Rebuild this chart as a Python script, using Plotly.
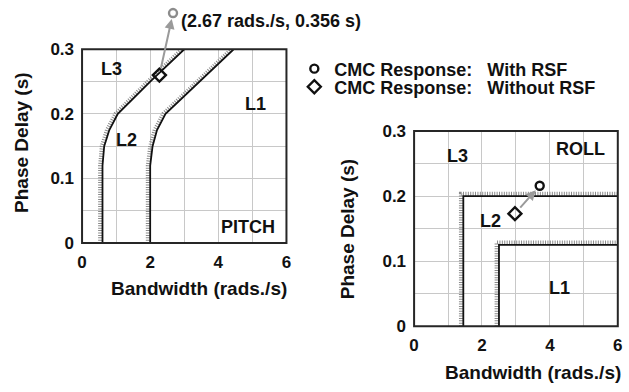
import plotly.graph_objects as go

# ---- Level boundaries (bandwidth in rad/s, phase delay in s) ----
pitch_l1_bw = [2.0, 2.0, 2.07, 2.2, 2.45, 3.45, 4.45]
pitch_l1_pd = [0.0, 0.12, 0.15, 0.175, 0.2, 0.25, 0.3]
pitch_l2_bw = [0.6, 0.6, 0.65, 0.8, 1.05, 2.0, 3.0]
pitch_l2_pd = [0.0, 0.12, 0.15, 0.175, 0.2, 0.25, 0.3]

roll_l1_bw = [2.5, 2.5, 6.0]
roll_l1_pd = [0.0, 0.125, 0.125]
roll_l2_bw = [1.45, 1.45, 6.0]
roll_l2_pd = [0.0, 0.2, 0.2]

# ---- CMC responses ----
pitch_without_rsf = (2.27, 0.26)
pitch_with_rsf = (2.67, 0.356)
roll_without_rsf = (2.97, 0.173)
roll_with_rsf = (3.7, 0.216)

X_RANGE = [0, 6]
Y_RANGE = [0, 0.3]

FONT = "Liberation Sans, Arial, sans-serif"
INK = "#111111"
GRID = "#c8c8c8"
HATCH = "#8a8a8a"
ARROW = "#9a9a9a"
FRAME = "#262626"

W, H = 629, 392
# plot-area domains (paper fractions)
PX_DOM = [78.3 / W, 286 / W]
PY_DOM = [(H - 246) / H, (H - 42.3) / H]
RX_DOM = [415.7 / W, 622.7 / W]
RY_DOM = [(H - 333.3) / H, (H - 128.3) / H]

# Invisible companion axes for the pitch panel: same scales as the pitch
# axes, but the y extent reaches the top of the figure so that responses
# above 0.3 s can still be placed.
PY_EXT_DOM = [PY_DOM[0], 1.0]
PY_EXT_TOP = Y_RANGE[0] + (Y_RANGE[1] - Y_RANGE[0]) * (PY_EXT_DOM[1] - PY_EXT_DOM[0]) / (PY_DOM[1] - PY_DOM[0])

fig = go.Figure()


def hatched(bw, pd, hx, hy, xa, ya):
    """Black boundary line with a gray hatch band on its shaded side."""
    fig.add_trace(go.Scatter(
        x=hx, y=hy, xaxis=xa, yaxis=ya, mode="lines",
        line=dict(color=HATCH, width=4, dash="1px,1.4px"),
        showlegend=False, hoverinfo="skip"))
    fig.add_trace(go.Scatter(
        x=bw, y=pd, xaxis=xa, yaxis=ya, mode="lines",
        line=dict(color=INK, width=1.8),
        showlegend=False, hoverinfo="skip"))


# Pitch boundaries: hatch on the upper-left side
for bw, pd in [(pitch_l1_bw, pitch_l1_pd), (pitch_l2_bw, pitch_l2_pd)]:
    hatched(bw, pd, [v - 0.07 for v in bw], pd, "x", "y")

# Roll boundaries: hatch left of the vertical and above the horizontal part
for bw, pd in [(roll_l1_bw, roll_l1_pd), (roll_l2_bw, roll_l2_pd)]:
    hatched(bw, pd,
            [bw[0] - 0.07, bw[1] - 0.07, bw[2]],
            [pd[0], pd[1] + 0.0035, pd[2] + 0.0035], "x2", "y2")

# Response markers
fig.add_trace(go.Scatter(
    x=[pitch_without_rsf[0]], y=[pitch_without_rsf[1]], xaxis="x", yaxis="y",
    mode="markers", showlegend=False, cliponaxis=False,
    marker=dict(symbol="diamond-open", size=10, color=INK, line=dict(width=2.4, color=INK))))
fig.add_trace(go.Scatter(
    x=[pitch_with_rsf[0]], y=[pitch_with_rsf[1]], xaxis="x3", yaxis="y3",
    mode="markers", showlegend=False, cliponaxis=False,
    marker=dict(symbol="circle-open", size=8, color="#8c8c8c", line=dict(width=2.4, color="#8c8c8c"))))
fig.add_trace(go.Scatter(
    x=[roll_with_rsf[0]], y=[roll_with_rsf[1]], xaxis="x2", yaxis="y2",
    mode="markers", name="CMC Response:\u00a0\u00a0\u00a0With RSF", legend="legend",
    marker=dict(symbol="circle-open", size=8, color=INK, line=dict(width=2.4, color=INK))))
fig.add_trace(go.Scatter(
    x=[roll_without_rsf[0]], y=[roll_without_rsf[1]], xaxis="x2", yaxis="y2",
    mode="markers", name="CMC Response:\u00a0\u00a0\u00a0Without RSF", legend="legend2",
    marker=dict(symbol="diamond-open", size=10, color=INK, line=dict(width=2.4, color=INK))))

tickfont = dict(family=FONT, size=17, color=INK, weight="bold")
axis_common = dict(
    showline=False, zeroline=False,
    showgrid=True, gridcolor=GRID, gridwidth=1,
    ticks="", tickfont=tickfont, ticklabelstandoff=7, fixedrange=True,
)
xa = dict(axis_common, range=X_RANGE, dtick=2, tick0=0,
          minor=dict(dtick=1, showgrid=True, gridcolor=GRID, gridwidth=1))
ya = dict(axis_common, range=Y_RANGE, dtick=0.1, tick0=0,
          minor=dict(dtick=0.05, showgrid=True, gridcolor=GRID, gridwidth=1))
hidden = dict(visible=False, fixedrange=True, showgrid=False, zeroline=False)

legend_font = dict(family=FONT, size=18, color=INK, weight="bold")
legend_common = dict(xanchor="left", yanchor="middle", bgcolor="rgba(0,0,0,0)",
                     itemwidth=30, borderwidth=0, font=legend_font)

fig.update_layout(
    width=W, height=H,
    margin=dict(l=0, r=0, t=0, b=0),
    paper_bgcolor="white", plot_bgcolor="rgba(0,0,0,0)",
    font=dict(family=FONT, size=18, color=INK, weight="bold"),
    xaxis=dict(xa, domain=PX_DOM, anchor="y"),
    yaxis=dict(ya, domain=PY_DOM, anchor="x"),
    xaxis3=dict(hidden, domain=PX_DOM, range=X_RANGE, anchor="y3"),
    yaxis3=dict(hidden, domain=PY_EXT_DOM, range=[Y_RANGE[0], PY_EXT_TOP], anchor="x3"),
    xaxis2=dict(xa, domain=RX_DOM, anchor="y2"),
    yaxis2=dict(ya, domain=RY_DOM, anchor="x2"),
    legend=dict(legend_common, x=294 / W, y=(H - 63) / H),
    legend2=dict(legend_common, x=294 / W, y=(H - 82) / H),
    showlegend=True,
)

# Plot frames
for xr, yr in [("x domain", "y domain"), ("x2 domain", "y2 domain")]:
    fig.add_shape(type="rect", xref=xr, yref=yr, x0=0, x1=1, y0=0, y1=1,
                  line=dict(color=FRAME, width=2), layer="above")


def label(text, x, y, xref, yref, size=18, **kw):
    kw.setdefault("xanchor", "center")
    kw.setdefault("yanchor", "middle")
    fig.add_annotation(text=text, x=x, y=y, xref=xref, yref=yref, showarrow=False,
                       font=dict(family=FONT, size=size, color=INK, weight="bold"), **kw)


# Region labels
label("L3", 0.86, 0.269, "x", "y")
label("L2", 1.29, 0.16, "x", "y")
label("L1", 5.09, 0.215, "x", "y")
label("PITCH", 4.87, 0.025, "x", "y")
label("L3", 1.27, 0.261, "x2", "y2")
label("L2", 2.25, 0.162, "x2", "y2")
label("L1", 4.28, 0.059, "x2", "y2")
label("ROLL", 4.9, 0.272, "x2", "y2")

# Axis titles
label("Bandwidth (rads./s)", 197 / W, (H - 294) / H, "paper", "paper", size=19)
label("Bandwidth (rads./s)", 537 / W, (H - 382) / H, "paper", "paper", size=19)
label("Phase Delay (s)", 16 / W, (H - 141) / H, "paper", "paper", size=19, textangle=-90)
label("Phase Delay (s)", 348 / W, (H - 231) / H, "paper", "paper", size=19, textangle=-90)

# Arrows from the response without RSF to the response with RSF
for (x0, y0), (x1, y1), xr, yr in [
    (pitch_without_rsf, pitch_with_rsf, "x3", "y3"),
    (roll_without_rsf, roll_with_rsf, "x2", "y2"),
]:
    fig.add_annotation(x=x1, y=y1, ax=x0, ay=y0, xref=xr, yref=yr, axref=xr, ayref=yr,
                       showarrow=True, arrowhead=2, arrowsize=1, arrowwidth=2,
                       arrowcolor=ARROW, standoff=6, startstandoff=6, text="")

# Value callout for the pitch response with RSF
label("(%.2f rads./s, %.3f s)" % pitch_with_rsf, pitch_with_rsf[0] + 0.17, pitch_with_rsf[1],
      "x3", "y3", xanchor="left", yanchor="top", yshift=4)

fig.write_html("out.html")
